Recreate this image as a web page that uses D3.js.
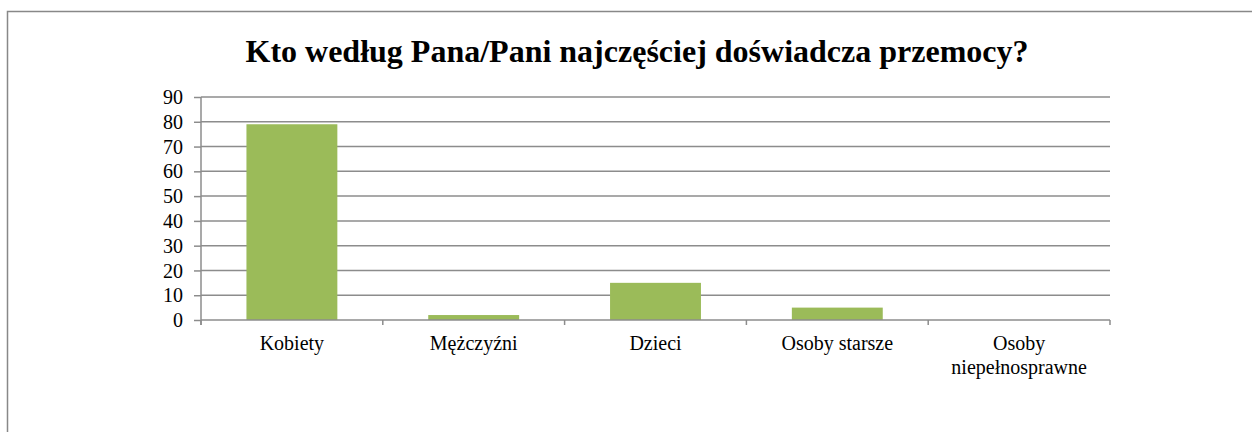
<!DOCTYPE html>
<html>
<head>
<meta charset="utf-8">
<script src="https://cdn.jsdelivr.net/npm/d3@7"></script>
<style>
  body { margin: 0; background: #fff; }
  svg { display: block; }
  svg text { font-family: "Liberation Serif", "Times New Roman", serif; fill: #000; }
</style>
</head>
<body>
<svg width="1252" height="432"></svg>
<script>
'use strict';
var categories = ["Kobiety", "Mężczyźni", "Dzieci", "Osoby starsze", "Osoby\nniepełnosprawne"];
var values = [79, 2, 15, 5, 0];
var yTicks = [0, 10, 20, 30, 40, 50, 60, 70, 80, 90];
var title = "Kto według Pana/Pani najczęściej doświadcza przemocy?";

var svg = d3.select("svg"),
    margin = {top: 97, right: 142, bottom: 112, left: 201},
    width = +svg.attr("width") - margin.left - margin.right,
    height = +svg.attr("height") - margin.top - margin.bottom;

// outer chart frame (runs off the window on the right and bottom)
svg.append("rect")
  .attr("x", 7.5).attr("y", 11.5)
  .attr("width", 1300).attr("height", 500)
  .attr("fill", "none")
  .attr("stroke", "#888")
  .attr("stroke-width", 1.5);

svg.append("text")
  .attr("x", 637).attr("y", 62)
  .attr("text-anchor", "middle")
  .style("font-size", "32px")
  .style("font-weight", "bold")
  .text(title);

var x = d3.scaleBand().domain(categories).range([0, width]).paddingInner(0.5).paddingOuter(0.25),
    y = d3.scaleLinear().domain([0, 90]).range([height, 0]);

var g = svg.append("g").attr("transform", "translate(" + margin.left + "," + margin.top + ")");

// gridlines
g.selectAll(".grid")
  .data(yTicks.filter(function(d) { return d > 0; }))
  .enter().append("line")
    .attr("x1", 0).attr("x2", width)
    .attr("y1", function(d) { return y(d); })
    .attr("y2", function(d) { return y(d); })
    .attr("stroke", "#8c8c8c")
    .attr("stroke-width", 1.5);

g.selectAll(".bar")
  .data(values)
  .enter().append("rect")
    .attr("x", function(d, i) { return x(categories[i]); })
    .attr("y", function(d) { return y(d); })
    .attr("width", x.bandwidth())
    .attr("height", function(d) { return height - y(d); })
    .attr("fill", "#9bbb59");

// y axis
var yAxis = g.append("g")
  .call(d3.axisLeft(y).tickValues(yTicks).tickSize(7).tickPadding(11));
yAxis.attr("font-family", null).attr("font-size", null);
yAxis.select(".domain").attr("stroke", "#8c8c8c").attr("stroke-width", 1.5).attr("d", "M0," + (height + 5) + "V0");
yAxis.selectAll(".tick line").attr("stroke", "#8c8c8c").attr("stroke-width", 1.5);
yAxis.selectAll(".tick text")
  .style("font-size", "20px")
  .attr("dy", "0.33em");

// x axis with ticks at band boundaries
var xg = g.append("g").attr("transform", "translate(0," + height + ")");
xg.append("line")
  .attr("x1", 0).attr("x2", width)
  .attr("stroke", "#8c8c8c").attr("stroke-width", 1.5);
var step = x.step();
var bounds = d3.range(categories.length + 1).map(function(i) { return x(categories[0]) - step * 0.25 + i * step; });
xg.selectAll(".xtick")
  .data(bounds)
  .enter().append("line")
    .attr("x1", function(d) { return d; }).attr("x2", function(d) { return d; })
    .attr("y1", 0).attr("y2", 5)
    .attr("stroke", "#8c8c8c").attr("stroke-width", 1.5);

xg.selectAll(".xlabel")
  .data(categories)
  .enter().append("text")
    .attr("text-anchor", "middle")
    .style("font-size", "20px")
    .attr("transform", function(d) { return "translate(" + (x(d) + x.bandwidth() / 2) + ",30)"; })
    .each(function(d) {
      var t = d3.select(this);
      d.split("\n").forEach(function(line, i) {
        t.append("tspan").attr("x", 0).attr("dy", i ? 24 : 0).text(line);
      });
    });
</script>
</body>
</html>
